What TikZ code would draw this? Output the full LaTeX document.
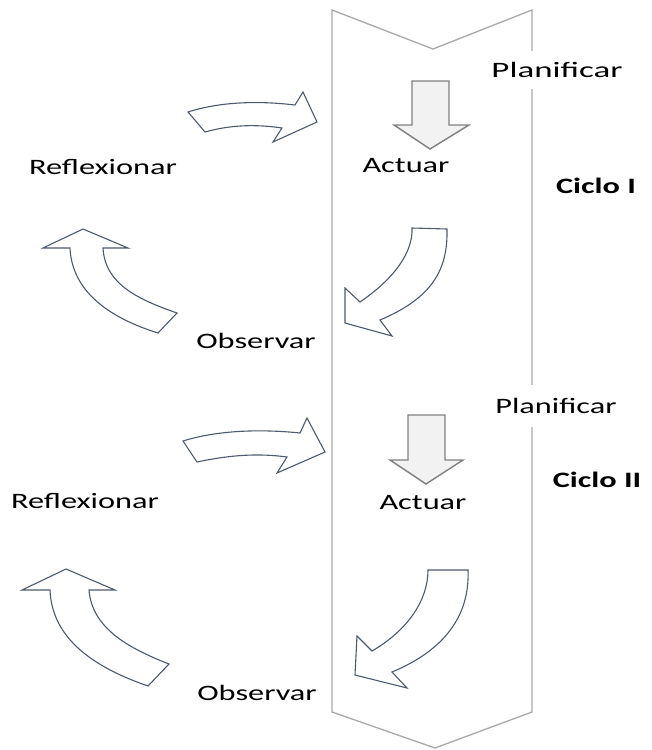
\documentclass[tikz,border=0pt]{standalone}
\usepackage{fontspec}
\setmainfont{Carlito}
\definecolor{bandgray}{HTML}{A8A8A8}
\definecolor{slate}{HTML}{4D5A6B}
\definecolor{blockgray}{HTML}{808080}
\definecolor{blockfill}{HTML}{F2F2F2}
\begin{document}
\begin{tikzpicture}[x=1pt,y=-1pt,
  banda/.style={line width=1.3pt,draw=bandgray},
  bloque/.style={line width=1.4pt,draw=blockgray,fill=blockfill},
  curva/.style={line width=1.1pt,draw=slate,fill=white},
  etiq/.style={font=\fontsize{22}{24}\selectfont,xscale=1.47,inner sep=1pt},
  ciclo/.style={etiq,font=\fontsize{22}{24}\selectfont\bfseries}]
\useasboundingbox (0,0) rectangle (651,750);
%\draw[step=50,gray,very thin] (0,0) grid (650,750); %background grid

% banda central
\draw[banda] (332,10) -- (433,49) -- (532,10) -- (532,712) -- (435,748) -- (332,712) -- cycle;

% ciclo I
\node[etiq,xscale=1.08,fill=white,minimum height=38pt] (plan1) at (557,70) {Planificar};
\node[etiq] (act1)  at (406,166) {Actuar};
\node[etiq] (refl1) at (103,167) {Reflexionar};
\node[etiq] (obs1)  at (256,341) {Observar};
\node[ciclo] (ciclo1) at (596,186) {Ciclo I};

\draw[bloque] (412,81) -- (449,81) -- (449,125) -- (469,125) -- (430,149) -- (394,125) -- (412,125) -- cycle; %plan-act
\draw[curva] (412,228) -- (447,229) .. controls (448,270) and (432,298) .. (380,320) -- (392,336) -- (345,323) -- (345,288) -- (360,302) .. controls (395,278) and (413,252) .. (412,228) -- cycle; %act-obs
\draw[curva] (83,229) -- (128,248) -- (103,248) .. controls (105,285) and (140,300) .. (177,313) -- (158,333) .. controls (110,318) and (72,292) .. (70,248) -- (43,248) -- cycle; %obs-refl
\draw[curva] (188,112) .. controls (222,101) and (262,101) .. (295,105) -- (303,92) -- (317,122) -- (273,142) -- (282,128) .. controls (255,124) and (230,125) .. (205,132) -- cycle; %refl-plan

% ciclo II
\node[etiq,fill=white,minimum height=42pt] (plan2) at (556,406) {Planificar};
\node[etiq] (act2)  at (423,503) {Actuar};
\node[etiq] (refl2) at (85,501) {Reflexionar};
\node[etiq] (obs2)  at (257,693) {Observar};
\node[ciclo] (ciclo2) at (597,480) {Ciclo II};

\draw[bloque] (408,415) -- (445,415) -- (445,460) -- (463,460) -- (426,484) -- (390,460) -- (408,460) -- cycle; %plan-act
\draw[curva] (428,570) -- (468,570) .. controls (470,615) and (445,650) .. (392,672) -- (407,688) -- (355,675) -- (357,636) -- (372,651) .. controls (408,630) and (428,600) .. (428,570) -- cycle; %act-obs
\draw[curva] (66,569) -- (115,590) -- (89,590) .. controls (92,628) and (128,648) .. (169,664) -- (148,686) .. controls (96,668) and (52,640) .. (50,590) -- (22,590) -- cycle; %obs-refl
\draw[curva] (183,441) .. controls (218,430) and (262,429) .. (300,433) -- (307,418) -- (325,452) -- (277,473) -- (287,457) .. controls (258,453) and (230,455) .. (197,462) -- cycle; %refl-plan
\end{tikzpicture}
\end{document}
